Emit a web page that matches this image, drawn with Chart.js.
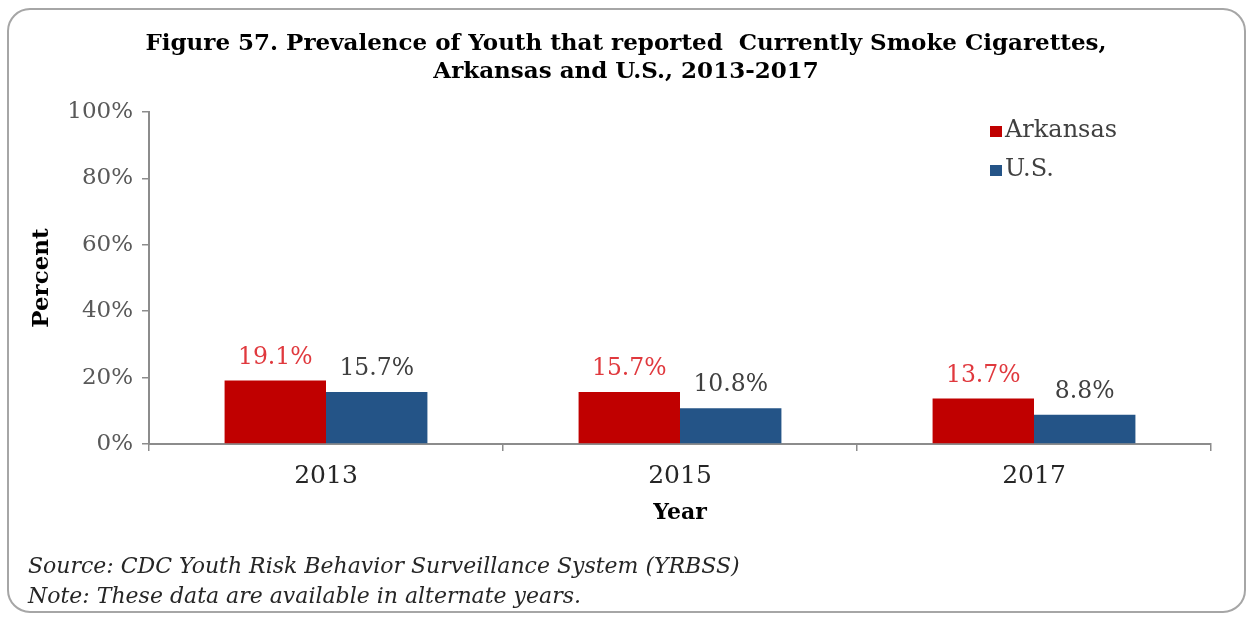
<!DOCTYPE html>
<html>
<head>
<meta charset="utf-8">
<script src="https://cdn.jsdelivr.net/npm/chart.js@4.4.1/dist/chart.umd.min.js"></script>
<style>
  html, body { margin: 0; padding: 0; background: #ffffff; }
  #wrap { width: 1253px; height: 619px; position: relative; }
</style>
</head>
<body>
<div id="wrap"><canvas id="c" width="1253" height="619"></canvas></div>
<script>
// Survey years and prevalence (%) of current cigarette smoking among youth
const years = ['2013', '2015', '2017'];
const arkansas = [19.1, 15.7, 13.7];
const us = [15.7, 10.8, 8.8];
const seriesNames = ['Arkansas', 'U.S.'];
const yTicks = [0, 20, 40, 60, 80, 100];

const titleLines = [
  'Figure 57. Prevalence of Youth that reported  Currently Smoke Cigarettes,',
  'Arkansas and U.S., 2013-2017'
];
const footLines = [
  'Source: CDC Youth Risk Behavior Surveillance System (YRBSS)',
  'Note: These data are available in alternate years.'
];

const SERIF = '"DejaVu Serif", "Liberation Serif", serif';
const RED = '#C00000';
const BLUE = '#245487';
const AXIS = '#8C8C8C';

// Frame, title, legend, value labels and notes
const decor = {
  id: 'decor',
  beforeDraw(chart) {
    const ctx = chart.ctx;
    ctx.save();
    ctx.fillStyle = '#ffffff';
    ctx.fillRect(0, 0, chart.width, chart.height);
    ctx.strokeStyle = '#A6A6A6';
    ctx.lineWidth = 2;
    ctx.beginPath();
    ctx.roundRect(8, 9, 1237, 603, 22);
    ctx.stroke();
    ctx.restore();
  },
  afterDatasetsDraw(chart) {
    const ctx = chart.ctx;
    ctx.save();
    ctx.font = '23.5px ' + SERIF;
    ctx.textAlign = 'center';
    ctx.textBaseline = 'alphabetic';
    chart.data.datasets.forEach((ds, di) => {
      const meta = chart.getDatasetMeta(di);
      ctx.fillStyle = di === 0 ? '#E0393E' : '#404040';
      meta.data.forEach((bar, i) => {
        ctx.fillText(ds.data[i].toFixed(1) + '%', bar.x, bar.y - 17);
      });
    });
    ctx.restore();
  },
  afterDraw(chart) {
    const ctx = chart.ctx;
    ctx.save();
    // title
    ctx.fillStyle = '#000000';
    ctx.textAlign = 'center';
    ctx.textBaseline = 'middle';
    ctx.font = 'bold 23px ' + SERIF;
    ctx.fillText(titleLines[0], 626, 44);
    ctx.fillText(titleLines[1], 626, 72);
    // legend
    ctx.textAlign = 'left';
    ctx.font = '24px ' + SERIF;
    const colors = [RED, BLUE];
    const ly = [131, 170];
    seriesNames.forEach((n, i) => {
      ctx.fillStyle = colors[i];
      ctx.fillRect(990, ly[i] - 5, 12, 11);
      ctx.fillStyle = '#404040';
      ctx.fillText(n, 1005, ly[i]);
    });
    // notes
    ctx.fillStyle = '#262626';
    ctx.font = 'italic 22px ' + SERIF;
    ctx.fillText(footLines[0], 28, 567);
    ctx.fillText(footLines[1], 28, 597);
    ctx.restore();
  }
};

new Chart(document.getElementById('c'), {
  type: 'bar',
  data: {
    labels: years,
    datasets: [
      { label: seriesNames[0], data: arkansas, backgroundColor: RED },
      { label: seriesNames[1], data: us, backgroundColor: BLUE }
    ]
  },
  options: {
    responsive: false,
    animation: false,
    devicePixelRatio: 1,
    layout: { padding: { left: 0, top: 112, right: 42, bottom: 0 } },
    datasets: { bar: { barPercentage: 1.0, categoryPercentage: 0.573 } },
    plugins: {
      legend: { display: false },
      tooltip: { enabled: false }
    },
    scales: {
      x: {
        grid: { drawOnChartArea: false, drawTicks: true, tickLength: 7, color: AXIS, lineWidth: 1.5 },
        border: { color: AXIS, width: 2 },
        ticks: { color: '#262626', font: { family: SERIF, size: 25 }, padding: 10 },
        title: { display: true, text: 'Year', color: '#000000',
                 font: { family: SERIF, size: 22, weight: 'bold' }, padding: { top: 0, bottom: 93 } },
        afterFit(s) { s.height = 619 - 444; }
      },
      y: {
        min: 0, max: 100,
        afterBuildTicks(s) { s.ticks = yTicks.map(v => ({ value: v })); },
        grid: { drawOnChartArea: false, drawTicks: true, tickLength: 7, color: AXIS, lineWidth: 1.5 },
        border: { color: AXIS, width: 2 },
        ticks: { color: '#595959', font: { family: SERIF, size: 23 }, padding: 9,
                 callback: v => v + '%' },
        title: { display: true, text: 'Percent', color: '#000000',
                 font: { family: SERIF, size: 23, weight: 'bold' }, padding: { top: 28, bottom: 0 } },
        afterFit(s) { s.width = 149; }
      }
    }
  },
  plugins: [decor]
});
</script>
</body>
</html>
